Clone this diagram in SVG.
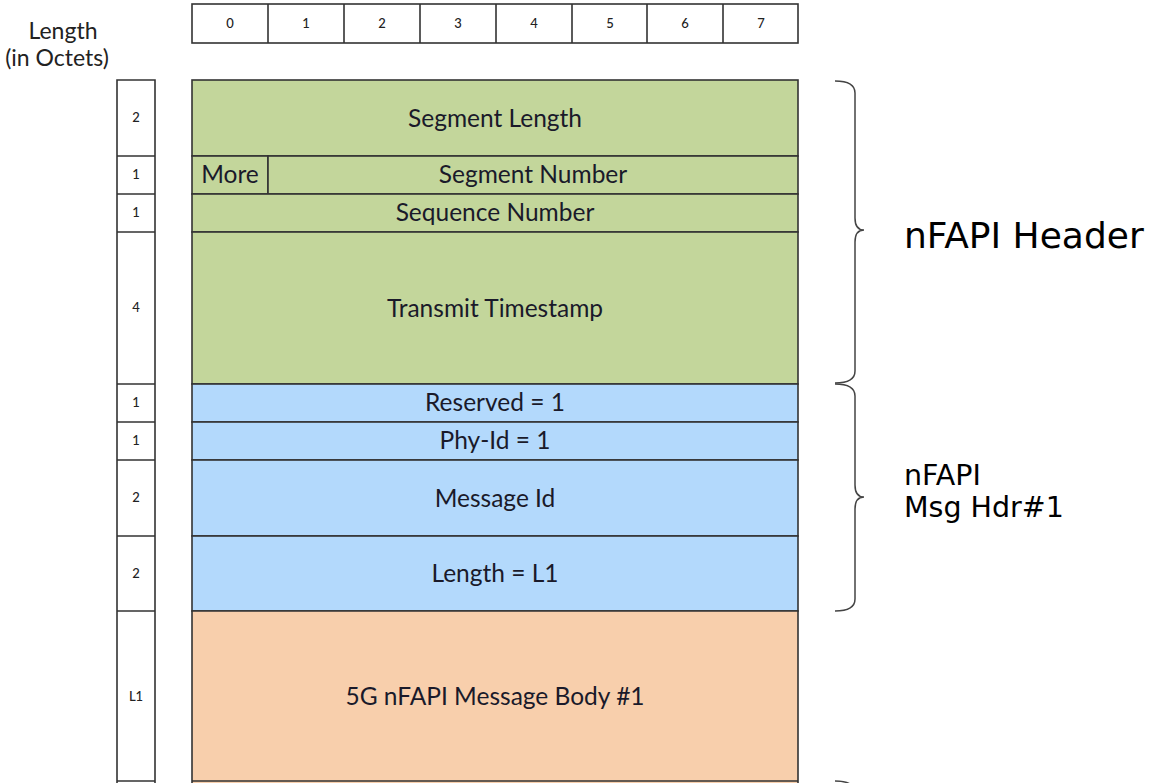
<svg xmlns="http://www.w3.org/2000/svg" width="1153" height="783" viewBox="0 0 1153 783">
<style>
.c{stroke:#333;stroke-width:1.6}
.w{fill:#fff}
.g{fill:#c3d69b}
.b{fill:#b3d9fc}
.o{fill:#f8cfac}
.t{font-family:Lato,"Liberation Sans",sans-serif;font-size:24.5px;fill:#1a1a2a;text-anchor:middle}
.s{font-family:Lato,"Liberation Sans",sans-serif;font-size:13px;font-weight:500;fill:#222;text-anchor:middle}
.v{font-family:"DejaVu Sans",Verdana,sans-serif;fill:#000}
.br{fill:none;stroke:#444;stroke-width:1.5}
</style>
<rect width="1153" height="783" fill="#fff"/>
<g id="axis-label">
<text class="t" x="63" y="39" style="font-size:23px;fill:#222">Length</text>
<text class="t" x="57" y="66" style="font-size:23px;fill:#222">(in Octets)</text>
</g>
<g id="bit-header">
<rect class="c w" x="192" y="4" width="606" height="39"/>
<path class="c" d="M268,4V43M344,4V43M420,4V43M496,4V43M572,4V43M647,4V43M723,4V43"/>
<text class="s" x="230" y="28">0</text>
<text class="s" x="306" y="28">1</text>
<text class="s" x="382" y="28">2</text>
<text class="s" x="458" y="28">3</text>
<text class="s" x="534" y="28">4</text>
<text class="s" x="610" y="28">5</text>
<text class="s" x="685" y="28">6</text>
<text class="s" x="761" y="28">7</text>
</g>
<g id="length-column">
<path class="c w" d="M117,790V80H155V790"/>
<path class="c" d="M117,156H155M117,194H155M117,232H155M117,384H155M117,422H155M117,460H155M117,536H155M117,611H155M117,781H155"/>
<text class="s" x="136" y="122">2</text>
<text class="s" x="136" y="179">1</text>
<text class="s" x="136" y="217">1</text>
<text class="s" x="136" y="312">4</text>
<text class="s" x="136" y="407">1</text>
<text class="s" x="136" y="445">1</text>
<text class="s" x="136" y="502">2</text>
<text class="s" x="136" y="578">2</text>
<text class="s" x="136" y="701">L1</text>
</g>
<g id="segment-length">
<rect class="c g" x="192" y="80" width="606" height="76"/>
<text class="t" x="495" y="127">Segment Length</text>
</g>
<g id="more">
<rect class="c g" x="192" y="156" width="76" height="38"/>
<text class="t" x="230" y="183">More</text>
</g>
<g id="segment-number">
<rect class="c g" x="268" y="156" width="530" height="38"/>
<text class="t" x="533" y="183">Segment Number</text>
</g>
<g id="sequence-number">
<rect class="c g" x="192" y="194" width="606" height="38"/>
<text class="t" x="495" y="221">Sequence Number</text>
</g>
<g id="transmit-timestamp">
<rect class="c g" x="192" y="232" width="606" height="152"/>
<text class="t" x="495" y="317">Transmit Timestamp</text>
</g>
<g id="reserved">
<rect class="c b" x="192" y="384" width="606" height="38"/>
<text class="t" x="495" y="411">Reserved = 1</text>
</g>
<g id="phy-id">
<rect class="c b" x="192" y="422" width="606" height="38"/>
<text class="t" x="495" y="449">Phy-Id = 1</text>
</g>
<g id="message-id">
<rect class="c b" x="192" y="460" width="606" height="76"/>
<text class="t" x="495" y="507">Message Id</text>
</g>
<g id="length-l1">
<rect class="c b" x="192" y="536" width="606" height="75"/>
<text class="t" x="495" y="582">Length = L1</text>
</g>
<g id="message-body">
<path class="c o" d="M192,790V611H798V790"/>
<path class="c" d="M192,781H798"/>
<text class="t" x="495" y="705">5G nFAPI Message Body #1</text>
</g>
<g id="braces">
<path class="br" d="M835,81Q855,81 855,93L855,218Q855,230 864,230Q855,230 855,242L855,371Q855,383 835,383"/>
<path class="br" d="M835,384Q855,384 855,396L855,485Q855,497 864,497Q855,497 855,509L855,599Q855,611 835,611"/>
<path class="br" d="M835,781Q855,781 855,793"/>
</g>
<g id="labels">
<text class="v" x="904" y="248" font-size="36">nFAPI Header</text>
<text class="v" x="904" y="485" font-size="28.5">nFAPI</text>
<text class="v" x="904" y="517" font-size="28.5">Msg Hdr#1</text>
</g>
</svg>
